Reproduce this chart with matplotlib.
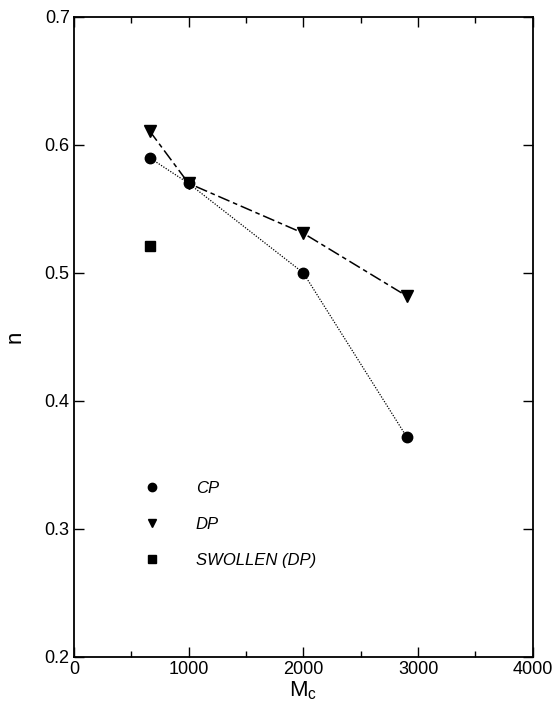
import matplotlib
matplotlib.use("Agg")
import matplotlib.pyplot as plt
from matplotlib.lines import Line2D
from matplotlib.ticker import MultipleLocator

plt.rcParams['font.family'] = ['Liberation Sans', 'DejaVu Sans']

# data
mc_cp = [660, 1000, 2000, 2900]
n_cp = [0.59, 0.57, 0.50, 0.372]
mc_dp = [660, 1000, 2000, 2900]
n_dp = [0.611, 0.57, 0.531, 0.482]
mc_sw = [660]
n_sw = [0.521]
legend_labels = ['CP', 'DP', 'SWOLLEN (DP)']

fig = plt.figure(figsize=(5.55, 7.07), dpi=100)
ax = fig.add_axes([0.133, 0.071, 0.827, 0.905])

ax.plot(mc_cp, n_cp, color='k', ls=(0, (1, 1.2)), lw=0.9, marker='o', ms=7.5)
ax.plot(mc_dp, n_dp, color='k', ls=(0, (8, 2.5, 3, 2.5)), lw=1.1, marker='v', ms=8)
ax.plot(mc_sw, n_sw, color='k', ls='none', marker='s', ms=7.5)

ax.set_xlim(0, 4000)
ax.set_ylim(0.2, 0.7)
ax.xaxis.set_major_locator(MultipleLocator(1000))
ax.xaxis.set_minor_locator(MultipleLocator(500))
ax.yaxis.set_major_locator(MultipleLocator(0.1))
ax.tick_params(which='both', direction='in', top=True, right=True, labelsize=13, width=1)
ax.tick_params(which='major', length=7, pad=3)
ax.tick_params(which='minor', length=4)
for s in ax.spines.values():
    s.set_linewidth(1.3)

ax.set_xlabel(r'M$_\mathregular{c}$', fontsize=16, labelpad=1)
ax.set_ylabel('n', fontsize=16, labelpad=14)

handles = [
    Line2D([], [], color='k', ls='none', marker='o', ms=6),
    Line2D([], [], color='k', ls='none', marker='v', ms=6),
    Line2D([], [], color='k', ls='none', marker='s', ms=6),
]
leg = ax.legend(handles, legend_labels, loc='upper left', bbox_to_anchor=(0.11, 0.298),
                frameon=False, fontsize=12, handlelength=1.5, handletextpad=1.9,
                labelspacing=1.25)
for t in leg.get_texts():
    t.set_fontstyle('italic')

fig.savefig('out.png', dpi=100)
